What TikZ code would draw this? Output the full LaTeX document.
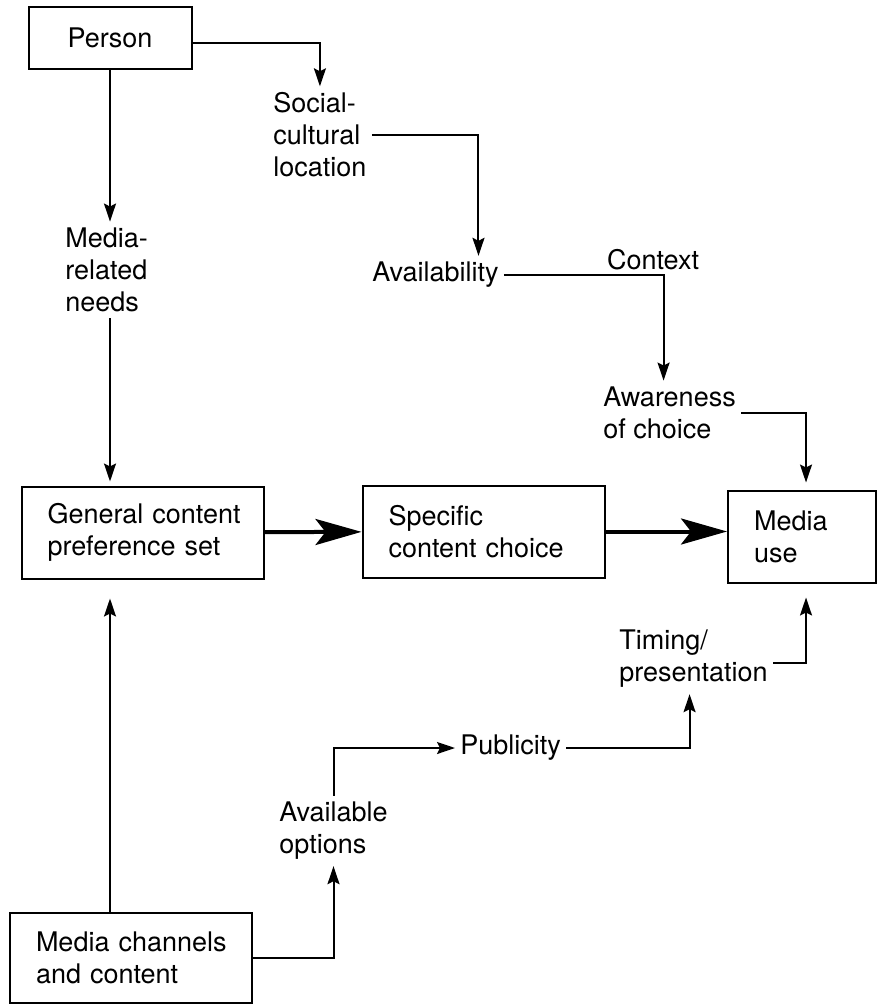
\documentclass[tikz,border=0pt]{standalone}
\usepackage{fontspec}
\setmainfont{TeX Gyre Heros}
\usetikzlibrary{arrows.meta, positioning}

\begin{document}
\begin{tikzpicture}[
    x=0.5pt, y=-0.5pt,
    every node/.style={font=\fontsize{13.5}{16}\selectfont},
    box/.style={rectangle, draw=black, line width=1pt, align=left, text width=95pt, inner xsep=13pt, minimum height=46pt,
        execute at begin node={\hyphenpenalty=10000}},
    term/.style={align=left, inner xsep=2.5pt, inner ysep=3pt, anchor=west},
    arrow/.style={-{Stealth[length=9pt, width=6pt, inset=1.5pt]}, line width=1pt},
    bigarrow/.style={-{Stealth[length=23pt, width=13pt, inset=5pt]}, line width=2pt}
]
\useasboundingbox (0,0) rectangle (878,1005);

% boxes
\node[box, align=center, text width=55.5pt, minimum height=31pt] (person) at (110,38) {Person};
\node[box] (general) at (142.5,532.5) {General~content\\preference~set};
\node[box] (specific) at (483.5,531.5) {Specific\\content~choice};
\node[box, text width=48pt] (use) at (802,536.5) {Media\\use};
\node[box, minimum height=45pt] (channels) at (131,958) {Media~channels\\and~content};

% free-standing terms
\node[term] (social) at (268,135) {Social-\\cultural\\location};
\node[term] (needs) at (60,270) {Media-\\related\\needs};
\node[term] (avail) at (367,275) {Availability};
\node (context) at (653,260) {Context};
\node[term] (aware) at (598,413) {Awareness\\of choice};
\node[term] (timing) at (614,659) {Timing/\\presentation};
\node[term] (publicity) at (455,748) {Publicity};
\node[term] (options) at (274,831) {Available\\options};

% connectors
\draw[arrow] ([yshift=-2.5pt]person.east) -| (social.north);
\draw[arrow] (person.south) -- (person.south |- needs.north);
\draw[arrow, shorten >=2pt] (needs.south -| person.south) -- (general.north -| person.south);
\draw[arrow] (social.east) -| ([xshift=21.5pt]avail.north);
\draw[arrow] (avail.east) -| ([xshift=-3pt]aware.north);
\draw[arrow, shorten >=3.5pt] (aware.east) -| ([xshift=2pt]use.north);
\draw[bigarrow] (general) -- (specific);
\draw[bigarrow] (specific.east) -- (specific.east -| use.west);
\draw[arrow, shorten >=9.5pt] (channels.north -| person.south) -- (general.south -| person.south);
\draw[arrow] (channels.east) -| (options.south);
\draw[arrow] (options.north) |- (publicity.west);
\draw[arrow] (publicity.east) -| ([xshift=-2pt]timing.south);
\draw[arrow, shorten >=7pt] ([yshift=-2pt]timing.east) -| ([xshift=2pt]use.south);

\end{tikzpicture}
\end{document}
